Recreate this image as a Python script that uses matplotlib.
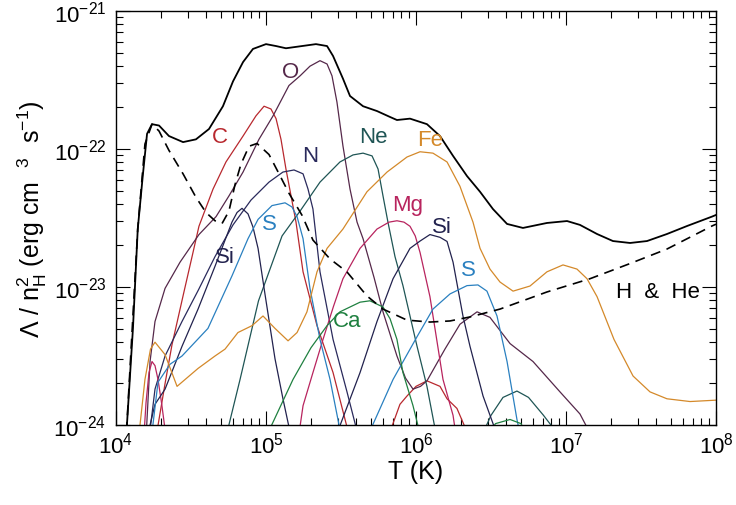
import numpy as np
import matplotlib
matplotlib.use("Agg")
import matplotlib.pyplot as plt
from matplotlib.ticker import LogLocator, NullFormatter

plt.rcParams['font.family'] = ['Liberation Sans', 'DejaVu Sans']
plt.rcParams['mathtext.fontset'] = 'custom'
plt.rcParams['mathtext.rm'] = 'Liberation Sans'
plt.rcParams['mathtext.it'] = 'Liberation Sans'
plt.rcParams['mathtext.default'] = 'regular'

# log10 T and log10 Lambda

# total cooling (solid black)
tot_T = [4.07, 4.113, 4.145, 4.178, 4.207, 4.24, 4.287, 4.353, 4.447, 4.533, 4.62, 4.713, 4.78,
         4.847, 4.913, 5.0, 5.067, 5.133, 5.2, 5.333, 5.407, 5.447, 5.513, 5.56, 5.647, 5.74, 5.827,
         5.873, 5.96, 6.073, 6.16, 6.247, 6.34, 6.427, 6.513, 6.607, 6.713, 6.873, 7.007, 7.093,
         7.207, 7.313, 7.427, 7.54, 7.673, 7.807, 7.973, 8.0]
tot_L = [-24.05, -23.30, -22.58, -22.20, -21.89, -21.82, -21.83, -21.906, -21.95, -21.93, -21.855,
         -21.69, -21.51, -21.37, -21.275, -21.24, -21.254, -21.27, -21.26, -21.24, -21.254, -21.326,
         -21.49, -21.616, -21.69, -21.725, -21.768, -21.79, -21.78, -21.82, -21.906, -22.05, -22.196,
         -22.31, -22.435, -22.543, -22.572, -22.536, -22.522, -22.55, -22.616, -22.667, -22.681,
         -22.667, -22.616, -22.558, -22.49, -22.478]

# H & He (dashed)
hhe_T = [4.07, 4.145, 4.193, 4.24, 4.287, 4.353, 4.447, 4.533, 4.6, 4.66, 4.707, 4.753, 4.793, 4.833,
         4.887, 4.94, 5.02, 5.087, 5.153, 5.24, 5.313, 5.427, 5.54, 5.673, 5.78, 5.94, 6.093, 6.227,
         6.36, 6.56, 6.873, 7.16, 7.427, 7.673, 7.973, 8.0]
hhe_L = [-24.05, -22.58, -21.964, -21.82, -21.87, -22.01, -22.18, -22.35, -22.46, -22.52, -22.54,
         -22.45, -22.26, -22.11, -21.98, -21.96, -22.04, -22.18, -22.32, -22.48, -22.66, -22.797,
         -22.891, -23.065, -23.16, -23.24, -23.254, -23.246, -23.217, -23.16, -23.036, -22.94, -22.83,
         -22.725, -22.558, -22.545]

# carbon
c_T = [4.265, 4.327, 4.373, 4.45, 4.507, 4.553, 4.647, 4.733, 4.847, 4.933, 4.987, 5.033, 5.067,
       5.1, 5.133, 5.167, 5.2, 5.247, 5.34, 5.447, 5.56]
c_L = [-24.1, -23.70, -23.42, -23.05, -22.78, -22.56, -22.29, -22.094, -21.906, -21.76, -21.69,
       -21.71, -21.78, -21.93, -22.145, -22.34, -22.53, -22.89, -23.28, -23.62, -24.1]
c2_T = [5.81, 5.893, 5.94, 6.0, 6.073, 6.16, 6.207, 6.273, 6.36]
c2_L = [-24.1, -23.85, -23.79, -23.72, -23.68, -23.72, -23.81, -23.88, -24.1]

# nitrogen
n_T = [4.22, 4.26, 4.327, 4.44, 4.55, 4.66, 4.78, 4.9, 5.02, 5.113, 5.187, 5.247, 5.28, 5.313,
       5.36, 5.447, 5.54, 5.62]
n_L = [-24.1, -23.74, -23.50, -23.25, -23.02, -22.78, -22.55, -22.37, -22.24, -22.167, -22.152,
       -22.18, -22.29, -22.435, -22.89, -23.38, -23.76, -24.1]

# oxygen
o_T = [4.2, 4.227, 4.26, 4.327, 4.427, 4.553, 4.667, 4.753, 4.847, 4.953, 5.047, 5.153, 5.227, 5.293,
       5.36, 5.407, 5.44, 5.473, 5.513, 5.56, 5.607, 5.647, 5.72, 5.78, 5.873, 5.93, 5.98, 6.03, 6.073,
       6.193, 6.293, 6.407, 6.493, 6.627, 6.78, 6.96, 7.093, 7.18]
o_L = [-24.1, -23.54, -23.25, -23.01, -22.82, -22.62, -22.49, -22.34, -22.167, -21.93, -21.76,
       -21.54, -21.47, -21.40, -21.36, -21.384, -21.47, -21.66, -21.978, -22.29, -22.53, -22.65,
       -22.93, -23.18, -23.50, -23.66, -23.74, -23.72, -23.68, -23.45, -23.27, -23.18, -23.22,
       -23.41, -23.54, -23.76, -23.92, -24.1]

# neon
ne_T = [4.73, 4.827, 4.95, 5.107, 5.227, 5.36, 5.493, 5.58, 5.647, 5.707, 5.747, 5.78, 5.813, 5.86,
        5.913, 6.007, 6.073, 6.14]
ne_L = [-24.1, -23.67, -23.10, -22.63, -22.45, -22.24, -22.094, -22.043, -22.03, -22.05, -22.145,
        -22.34, -22.53, -22.78, -22.99, -23.43, -23.72, -24.1]
ne2_T = [6.43, 6.5, 6.58, 6.673, 6.75, 6.85, 6.97]
ne2_L = [-24.1, -23.93, -23.80, -23.754, -23.80, -23.93, -24.1]

# magnesium
mg_lo_T = [4.185, 4.2, 4.22, 4.24, 4.26, 4.28, 4.305, 4.335]
mg_lo_L = [-24.1, -23.84, -23.62, -23.54, -23.57, -23.67, -23.85, -24.1]
mg_T = [5.215, 5.247, 5.313, 5.38, 5.45, 5.513, 5.627, 5.74, 5.82, 5.873, 5.92, 5.96, 5.995,
        6.027, 6.093, 6.18, 6.247, 6.27]
mg_L = [-24.1, -23.86, -23.62, -23.38, -23.14, -22.94, -22.72, -22.58, -22.53, -22.52, -22.53,
        -22.56, -22.63, -22.75, -23.07, -23.67, -23.93, -24.1]

# silicon
si_lo_T = [4.205, 4.26, 4.327, 4.44, 4.547, 4.66, 4.773, 4.807, 4.84, 4.88, 4.913, 4.947, 4.993,
           5.06, 5.113, 5.17]
si_lo_L = [-24.1, -23.85, -23.74, -23.43, -23.16, -22.85, -22.53, -22.46, -22.43, -22.47, -22.565,
           -22.72, -23.05, -23.52, -23.81, -24.1]
si_T = [5.46, 5.627, 5.74, 5.847, 5.96, 6.027, 6.093, 6.16, 6.207, 6.247, 6.313, 6.36, 6.447, 6.55]
si_L = [-24.1, -23.62, -23.25, -22.94, -22.72, -22.667, -22.62, -22.64, -22.67, -22.82, -23.21,
        -23.43, -23.79, -24.1]

# sulphur
s_lo_T = [4.235, 4.28, 4.36, 4.44, 4.613, 4.773, 4.88, 4.947, 5.04, 5.127, 5.173, 5.207, 5.247,
          5.293, 5.36, 5.427, 5.505]
s_lo_L = [-24.1, -23.69, -23.56, -23.50, -23.30, -22.92, -22.65, -22.51, -22.41, -22.39, -22.42,
          -22.49, -22.65, -23.01, -23.38, -23.67, -24.1]
s_T = [5.67, 5.847, 6.007, 6.113, 6.227, 6.34, 6.413, 6.473, 6.54, 6.607, 6.673, 6.7]
s_L = [-24.1, -23.67, -23.36, -23.16, -23.05, -22.99, -22.985, -23.03, -23.21, -23.54, -23.96, -24.1]

# calcium
ca_T = [4.995, 5.18, 5.3, 5.407, 5.493, 5.627, 5.693, 5.78, 5.827, 5.873, 5.913, 5.98, 6.035]
ca_L = [-24.1, -23.67, -23.44, -23.28, -23.18, -23.11, -23.10, -23.145, -23.23, -23.38, -23.62,
        -23.86, -24.1]
ca2_T = [6.46, 6.53, 6.627, 6.70, 6.75]
ca2_L = [-24.1, -23.99, -23.96, -23.99, -24.1]

# iron
fe_T = [4.15, 4.193, 4.23, 4.26, 4.327, 4.407, 4.547, 4.66, 4.727, 4.813, 4.907, 4.98, 5.06, 5.147,
        5.207, 5.273, 5.34, 5.407, 5.513, 5.673, 5.807, 5.94, 6.027, 6.113, 6.207, 6.293, 6.38,
        6.427, 6.493, 6.56, 6.647, 6.76, 6.873, 6.98, 7.073, 7.14, 7.207, 7.32, 7.447, 7.56, 7.673,
        7.827, 8.0]
fe_L = [-24.1, -23.67, -23.45, -23.40, -23.49, -23.72, -23.59, -23.50, -23.45, -23.33, -23.28,
        -23.21, -23.30, -23.39, -23.33, -23.18, -22.89, -22.72, -22.58, -22.31, -22.167, -22.058,
        -22.02, -22.03, -22.094, -22.27, -22.53, -22.72, -22.87, -22.964, -23.03, -22.993, -22.89,
        -22.84, -22.87, -22.94, -23.07, -23.38, -23.645, -23.76, -23.81, -23.83, -23.82]

col_c = '#b8282e'
col_n = '#2a2a5c'
col_o = '#55284a'
col_ne = '#1f5555'
col_mg = '#b8245e'
col_si = '#22224e'
col_s = '#2a80c0'
col_ca = '#1f8040'
col_fe = '#d4892a'

fig = plt.figure(figsize=(7.36, 5.06), dpi=100)
ax = fig.add_axes([116 / 736, 1 - 426 / 506, 600 / 736, 414 / 506])

def draw(lt, ll, col, lw=0.9, **kw):
    ax.plot(10 ** np.array(lt), 10 ** np.array(ll), color=col, lw=lw, **kw)

draw(c_T, c_L, col_c)
draw(c2_T, c2_L, col_c)
draw(n_T, n_L, col_n)
draw(o_T, o_L, col_o)
draw(ne_T, ne_L, col_ne)
draw(ne2_T, ne2_L, col_ne)
draw(mg_lo_T, mg_lo_L, col_mg)
draw(mg_T, mg_L, col_mg)
draw(si_lo_T, si_lo_L, col_si)
draw(si_T, si_L, col_si)
draw(s_lo_T, s_lo_L, col_s)
draw(s_T, s_L, col_s)
draw(ca_T, ca_L, col_ca)
draw(ca2_T, ca2_L, col_ca)
draw(fe_T, fe_L, col_fe)
draw(hhe_T, hhe_L, 'black', lw=1.2, dashes=(6, 4))
draw(tot_T, tot_L, 'black', lw=1.3)

# element labels
labels = [('O', 5.167, -21.435, col_o), ('C', 4.693, -21.906, col_c), ('N', 5.293, -22.05, col_n),
          ('Ne', 5.713, -21.906, col_ne), ('Fe', 6.093, -21.928, col_fe), ('Mg', 5.947, -22.40, col_mg),
          ('Si', 6.173, -22.565, col_si), ('S', 5.02, -22.54, col_s), ('Si', 4.727, -22.78, col_si),
          ('S', 6.347, -22.87, col_s), ('Ca', 5.54, -23.246, col_ca), ('H  &  He', 7.613, -23.03, 'black')]
for txt, lt, ll, col in labels:
    ax.text(10 ** lt, 10 ** ll, txt, color=col, fontsize=16, ha='center', va='center')

ax.set_xscale('log')
ax.set_yscale('log')
ax.set_xlim(1e4, 1e8)
ax.set_ylim(1e-24, 1e-21)
ax.xaxis.set_minor_locator(LogLocator(base=10, subs=np.arange(2, 10)))
ax.yaxis.set_minor_locator(LogLocator(base=10, subs=np.arange(2, 10)))
ax.xaxis.set_minor_formatter(NullFormatter())
ax.yaxis.set_minor_formatter(NullFormatter())
ax.tick_params(which='both', direction='in', top=True, right=True, labelsize=16, width=0.8)
ax.tick_params(which='major', length=10)
ax.tick_params(axis='y', which='major', pad=7)
ax.tick_params(axis='x', which='major', pad=5)
ax.tick_params(which='minor', length=5)
for sp in ax.spines.values():
    sp.set_linewidth(1.0)

ax.set_xlabel('T (K)', fontsize=18, labelpad=1)
ax.set_ylabel(r'$\Lambda$ / n$_{H}^{2}$ (erg cm  $^{3}$  s$^{-1}$)', fontsize=18, labelpad=3)

fig.savefig('out.png', dpi=100)
